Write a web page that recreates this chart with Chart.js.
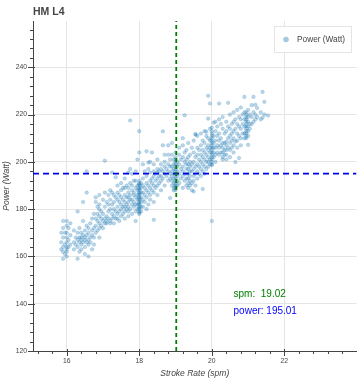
<!DOCTYPE html>
<html>
<head>
<meta charset="utf-8">
<script src="https://cdn.jsdelivr.net/npm/chart.js@4/dist/chart.umd.min.js"></script>
<style>
  html, body { margin: 0; padding: 0; background: #fff; }
  #wrap { width: 361px; height: 380px; }
</style>
</head>
<body>
<div id="wrap"><canvas id="hmChart" width="361" height="380"></canvas></div>
<script>
// stroke rate values and the power readings logged at each of them
var spmValues = [15.85, 15.9, 15.95, 16.0, 16.05, 16.1, 16.2, 16.25, 16.3, 16.35, 16.4, 16.45, 16.5, 16.55, 16.6, 16.65, 16.7, 16.75, 16.8, 16.85,
  16.9, 16.95, 17.0, 17.05, 17.1, 17.15, 17.2, 17.25, 17.3, 17.35, 17.4, 17.45, 17.5, 17.55, 17.6, 17.65, 17.7, 17.75, 17.8, 17.85,
  17.9, 17.95, 18.0, 18.05, 18.1, 18.15, 18.2, 18.25, 18.3, 18.35, 18.4, 18.45, 18.5, 18.55, 18.6, 18.65, 18.7, 18.75, 18.8, 18.85,
  18.9, 18.95, 19.0, 19.05, 19.1, 19.15, 19.2, 19.25, 19.3, 19.35, 19.4, 19.45, 19.5, 19.55, 19.6, 19.65, 19.7, 19.75, 19.8, 19.85,
  19.9, 19.95, 20.0, 20.05, 20.1, 20.15, 20.2, 20.25, 20.3, 20.35, 20.4, 20.45, 20.5, 20.55, 20.6, 20.65, 20.7, 20.75, 20.8, 20.85,
  20.9, 20.95, 21.0, 21.05, 21.1, 21.15, 21.2, 21.25, 21.35, 21.4, 21.45, 21.55];

var powerBySpm = [
  [170, 166, 163], [175, 172, 168, 164, 162, 159], [170, 165, 161], [175, 173, 170, 168, 166, 164, 163, 162, 160], [172, 167, 164],
  [174, 169, 165], [171, 166, 163], [168, 165], [179, 170, 167, 164, 159], [172, 168, 166, 162],
  [170, 168, 167, 165, 163], [183, 175, 169, 166], [171, 168, 167, 164, 161], [196, 187, 173, 169, 166], [172, 170, 167, 165, 160],
  [174, 168, 166], [176, 171, 169, 163], [178, 172, 168, 165], [185, 183, 176, 173, 170], [181, 178, 175, 171],
  [186, 182, 180, 177, 174, 172, 168], [179, 176, 173], [184, 178, 175, 172], [200.5, 187, 181, 176, 174], [183, 177, 175, 174],
  [186, 182, 179, 176], [188, 184, 180, 175, 174], [195.5, 187, 182, 178, 176], [186, 183, 180, 177, 174], [193.5, 185, 179, 176],
  [190, 187, 184, 181, 178, 176], [186, 183, 179, 175], [191, 188, 185, 182, 180, 177], [189, 184, 181, 178], [193, 189, 186, 183, 181, 179, 176],
  [190, 185, 182, 180], [195.5, 189, 187, 185, 183, 181, 179, 177], [217.5, 197, 191, 186, 184, 180], [195, 190, 188, 184, 182, 178], [192, 187, 186, 183, 181],
  [196, 192, 189, 185, 182, 179, 175], [201, 190, 188, 186, 184, 182, 180],
  [213, 204, 192, 191, 190.5, 190, 189, 188.5, 188, 187, 186.5, 186, 185, 184.5, 184, 183, 182.5, 182, 181, 180.5, 180, 179, 178.5, 178],
  [191, 189, 187, 185, 183, 181, 179], [199, 193, 190, 187, 184, 181], [196, 189, 186, 183], [204.5, 194, 191, 188, 185, 180], [199.7, 197, 190, 187, 182],
  [200, 195.5, 192, 189, 186, 184], [204, 193, 191, 188], [199, 196, 194, 190, 187, 183, 175.5], [195, 192, 189], [201, 197, 195.5, 193, 190, 186],
  [196, 194, 191], [199, 197, 194, 192, 188], [212.9, 207, 196, 193], [203, 200, 198, 195, 190], [197, 194], [207, 203, 199, 196, 192],
  [201, 198, 195, 193, 184.7], [208, 203, 198, 196, 194, 192, 190], [201, 199, 197, 195, 193, 191, 189, 188],
  [204, 202, 201, 200, 199, 198, 197, 196, 195, 194, 193, 192, 191, 190, 189.5, 189, 188],
  [200, 198, 196, 194, 192, 190], [206, 203, 199, 195, 191], [201, 197, 193], [210, 207, 202, 198, 196, 194, 189], [219.7, 204, 200, 195, 192],
  [205, 201, 199, 197, 195, 193, 190], [208, 202, 199, 197, 195, 193, 191, 189], [203, 200, 198, 196, 194, 192, 190], [206, 199, 196, 191, 188],
  [209, 204, 200, 197, 194, 192, 187.5], [211.8, 211.5, 202, 198, 195, 190], [211, 206, 203, 199, 196, 193], [205, 201, 198, 195],
  [212, 207, 203, 200, 197, 194], [209, 205, 202, 199, 196, 188.5], [213, 208, 204, 201, 198, 195], [212.8, 211, 206, 203, 200, 197],
  [228, 218.3, 210, 207, 205, 202, 200, 198], [224.7, 214, 209, 206, 204, 201, 199],
  [214.5, 213, 212, 211, 210, 209, 208, 207, 206, 205, 204, 203, 202, 201, 200, 199, 198.7, 175],
  [216.6, 211, 208, 206, 204, 202], [217, 213, 209, 206, 203, 200], [215, 211, 207, 204], [224.7, 218, 212, 209, 206, 203], [216, 210, 207, 204],
  [219, 214, 208, 206, 204, 202, 201], [212, 208, 205, 203], [217, 213, 208.5, 207, 205, 203, 201], [225, 215, 210, 206], [220, 214, 211, 208, 205, 202],
  [216, 212, 209, 206], [221, 217, 213, 210, 207, 204], [218, 214, 208.6, 199.9], [222, 216, 212, 209, 206], [219, 215, 211, 201.6],
  [223, 218, 214, 210, 207], [220, 216, 212], [227.5, 221, 218, 215, 212, 210],
  [221, 220, 219, 218, 217, 216, 215, 214, 213, 212, 211, 210],
  [222, 219, 217, 215, 213, 211, 207.2], [220, 216, 214], [224, 219, 216], [227.5, 221, 217], [224.2, 220, 218], [222.8, 219],
  [221, 218], [229.6, 218.7], [225.4, 220], [219.6]
];

var meanSpm = 19.02;
var meanPower = 195.01;
var spmTicks = [16, 18, 20, 22];
var powerTicks = [120, 140, 160, 180, 200, 220, 240];

var points = [];
spmValues.forEach(function(s, i) {
  powerBySpm[i].forEach(function(p) { points.push({x: s, y: p}); });
});

var font = "'Liberation Sans', Arial, Helvetica, sans-serif";
var ptFill = 'rgba(31,119,180,0.3)';
var ptLine = 'rgba(31,119,180,0.35)';

// minor/major tick marks, title, legend box and the two value labels
var extras = {
  id: 'extras',
  afterDraw: function(chart) {
    var ctx = chart.ctx, xs = chart.scales.x, ys = chart.scales.y, a = chart.chartArea;
    ctx.save();
    ctx.strokeStyle = '#444';
    ctx.lineWidth = 1;
    ctx.beginPath();
    for (var v = 120; v <= 258; v += 4) {
      var py = Math.round(ys.getPixelForValue(v)) + 0.5;
      var major = v % 20 === 0;
      ctx.moveTo(a.left - (major ? 5 : 3), py);
      ctx.lineTo(a.left + (major ? 2 : 0), py);
    }
    for (var k = 0; k < 22; k++) {
      var sv = 15.2 + k * 0.4;
      var px = Math.round(xs.getPixelForValue(sv)) + 0.5;
      var maj = Math.abs(sv / 2 - Math.round(sv / 2)) < 0.01;
      ctx.moveTo(px, a.bottom + (maj ? 5 : 3));
      ctx.lineTo(px, a.bottom - (maj ? 2 : 0));
    }
    ctx.stroke();

    // title
    ctx.fillStyle = '#444';
    ctx.font = 'bold 10.5px ' + font;
    ctx.textBaseline = 'alphabetic';
    ctx.textAlign = 'left';
    ctx.fillText('HM L4', a.left, 15);

    // legend
    ctx.fillStyle = 'rgba(255,255,255,0.95)';
    ctx.fillRect(274.5, 26.5, 77, 26);
    ctx.strokeStyle = '#e5e5e5';
    ctx.strokeRect(274.5, 26.5, 77, 26);
    ctx.beginPath();
    ctx.arc(286, 39.5, 2.8, 0, Math.PI * 2);
    ctx.fillStyle = 'rgba(31,119,180,0.4)';
    ctx.fill();
    ctx.fillStyle = '#444';
    ctx.font = '8.3px ' + font;
    ctx.textBaseline = 'middle';
    ctx.fillText('Power (Watt)', 297, 39.5);

    // value labels
    ctx.font = '10px ' + font;
    ctx.textBaseline = 'alphabetic';
    ctx.fillStyle = 'green';
    ctx.fillText('spm:  ' + meanSpm.toFixed(2), xs.getPixelForValue(20.6), ys.getPixelForValue(143));
    ctx.fillStyle = 'blue';
    ctx.fillText('power: ' + meanPower.toFixed(2), xs.getPixelForValue(20.6), ys.getPixelForValue(135.7));
    ctx.restore();
  }
};

var ctx = document.getElementById('hmChart');
var hmChart = new Chart(ctx, {
  type: 'scatter',
  data: {
    datasets: [{
      label: 'spm',
      type: 'line',
      data: [{x: meanSpm, y: 120}, {x: meanSpm, y: 259.6}],
      borderColor: 'green',
      borderWidth: 1.8,
      borderDash: [4, 3],
      pointRadius: 0,
      order: 0
    }, {
      label: 'power',
      type: 'line',
      data: [{x: 15.07, y: meanPower}, {x: 23.99, y: meanPower}],
      borderColor: 'rgba(0,0,230,1)',
      borderWidth: 1.8,
      borderDash: [6, 4],
      pointRadius: 0,
      order: 0
    }, {
      label: 'Power (Watt)',
      data: points,
      backgroundColor: ptFill,
      borderColor: ptLine,
      borderWidth: 0.5,
      pointRadius: 1.8,
      order: 1
    }]
  },
  options: {
    responsive: false,
    animation: false,
    layout: { padding: { top: 21, right: 3, left: 0, bottom: 0 } },
    plugins: {
      legend: { display: false },
      tooltip: { enabled: false }
    },
    scales: {
      x: {
        type: 'linear',
        min: 15.07,
        max: 23.99,
        afterBuildTicks: function(s) { s.ticks = spmTicks.map(function(v) { return {value: v}; }); },
        afterFit: function(s) { s.height = 29; },
        grid: { color: '#e5e5e5', drawTicks: false },
        border: { color: '#444', width: 1 },
        ticks: { color: '#444', padding: 6, font: { size: 6.8, family: font } },
        title: {
          display: true, text: 'Stroke Rate (spm)', color: '#444',
          padding: { top: 0, bottom: 1.6 },
          font: { size: 8.5, style: 'italic', family: font }
        }
      },
      y: {
        min: 120,
        max: 259.6,
        afterBuildTicks: function(s) { s.ticks = powerTicks.map(function(v) { return {value: v}; }); },
        afterFit: function(s) { s.width = 33; },
        grid: { color: '#e5e5e5', drawTicks: false },
        border: { color: '#444', width: 1 },
        ticks: { color: '#444', padding: 6, font: { size: 6.8, family: font } },
        title: {
          display: true, text: 'Power (Watt)', color: '#444',
          padding: { top: 2, bottom: 0 },
          font: { size: 8.5, style: 'italic', family: font }
        }
      }
    }
  },
  plugins: [extras]
});
</script>
</body>
</html>
